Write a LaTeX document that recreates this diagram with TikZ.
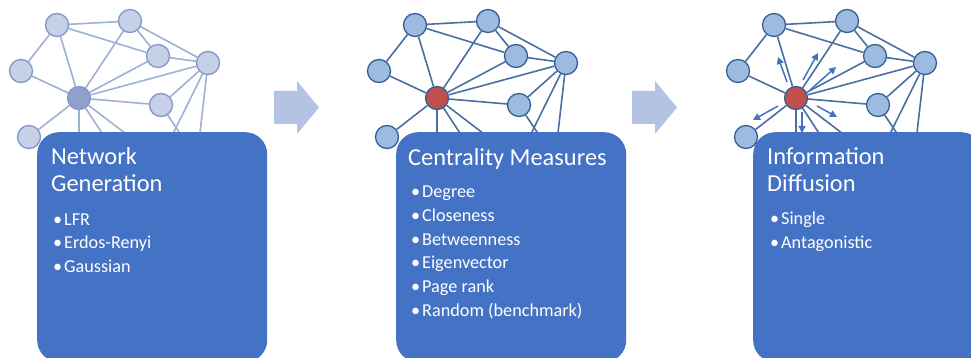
\documentclass[tikz,border=0pt]{standalone}
\usepackage{fontspec}
\setmainfont{Carlito}
\usetikzlibrary{arrows.meta}

\definecolor{boxblue}{RGB}{68,114,196}
\definecolor{chevron}{RGB}{180,194,228}
\definecolor{paleedge}{RGB}{158,176,214}
\definecolor{palefill}{RGB}{198,208,231}
\definecolor{paleline}{RGB}{130,151,200}
\definecolor{palehub}{RGB}{142,160,205}
\definecolor{nodefill}{RGB}{157,186,224}
\definecolor{nodeline}{RGB}{52,96,150}
\definecolor{edgeblue}{RGB}{72,112,160}
\definecolor{hubred}{RGB}{192,80,77}

% one copy of the graph, drawn with the styles of the enclosing scope
\newcommand\netdraw{%
  \node[vtx] (A) at (57,25) {};
  \node[vtx] (B) at (130,21) {};
  \node[vtx] (C) at (158,56) {};
  \node[vtx] (D) at (208,63) {};
  \node[vtx] (E) at (21,71) {};
  \node[hub] (F) at (79,98) {};
  \node[vtx] (G) at (161,105) {};
  \node[vtx] (H) at (29,137) {};
  \coordinate (f1) at (79,150);
  \coordinate (f2) at (113,150);
  \coordinate (f3) at (147,150);
  \coordinate (g1) at (191,150);
  \coordinate (d1) at (165,150);
  \coordinate (d2) at (198,150);
  \draw[link] (A)--(B) (A)--(E) (A)--(F) (A)--(C) (B)--(C) (B)--(F) (B)--(D)
    (C)--(D) (C)--(F) (D)--(F) (D)--(G) (E)--(F) (F)--(G) (F)--(H)
    (F)--(f1) (F)--(f2) (F)--(f3) (G)--(g1) (D)--(d1) (D)--(d2);
}

\tikzset{
  panel/.style={fill=boxblue, rounded corners=22pt, minimum width=230pt,
    minimum height=230pt, inner sep=0pt, anchor=north west},
  ttl/.style={anchor=base west, inner sep=0pt, text=white,
    font=\fontsize{24.4}{28}\selectfont},
  itm/.style={anchor=base west, inner sep=0pt, text=white,
    font=\fontsize{18.2}{22}\selectfont},
  spread/.style={draw=boxblue, line width=1.5pt,
    -{Triangle[length=7pt,width=7pt]}},
  paleset/.style={
    vtx/.style={circle, fill=palefill, draw=paleline, line width=1.3pt,
      minimum size=23pt, inner sep=0pt},
    hub/.style={vtx, fill=palehub},
    link/.style={draw=paleedge, line width=1.6pt}},
  boldset/.style={
    vtx/.style={circle, fill=nodefill, draw=nodeline, line width=1.3pt,
      minimum size=23pt, inner sep=0pt},
    hub/.style={vtx, fill=hubred},
    link/.style={draw=edgeblue, line width=1.6pt}},
}

\newcommand\itemline[1]{\makebox[11pt][l]{•}#1}

\begin{document}
\begin{tikzpicture}[x=1pt,y=-1pt]
  \useasboundingbox (0,0) rectangle (971,358);
  \clip (0,0) rectangle (971,358);
  \fill[white] (0,0) rectangle (971,358);

  % graphs
  \begin{scope}[name prefix=p1-, paleset]
    \netdraw
  \end{scope}
  \begin{scope}[name prefix=p2-, xshift=358pt, boldset]
    \netdraw
  \end{scope}
  \begin{scope}[name prefix=p3-, xshift=717pt, boldset]
    \netdraw
    \coordinate (s1) at (70,82);  \coordinate (e1) at (61,57);
    \coordinate (s2) at (86,80);  \coordinate (e2) at (101,53);
    \coordinate (s3) at (93,90);  \coordinate (e3) at (119,67);
    \coordinate (s4) at (100,106);\coordinate (e4) at (120,117);
    \coordinate (s5) at (85,112); \coordinate (e5) at (85,133);
    \coordinate (s6) at (61,106); \coordinate (e6) at (36,120);
    \foreach \k in {1,...,6} \draw[spread] (s\k) -- (e\k);
  \end{scope}

  % block arrows between the stages
  \foreach \dx in {0,358}
    \fill[chevron, xshift=\dx pt] (274,91) -- (297,91) -- (297,81) -- (319,107.5)
      -- (297,134) -- (297,124) -- (274,124) -- cycle;

  % stage boxes
  \node[panel] (box1) at (37,132) {};
  \node[panel] (box2) at (396,132) {};
  \node[panel] (box3) at (753,132) {};

  % stage 1
  \node[ttl] (t1a) at (51,165) {Network};
  \node[ttl] (t1b) at (51,192) {Generation};
  \node[itm] (b1a) at (53,225) {\itemline{LFR}};
  \node[itm] (b1b) at (53,248.5) {\itemline{Erdos-Renyi}};
  \node[itm] (b1c) at (53,272) {\itemline{Gaussian}};

  % stage 2
  \node[ttl] (t2a) at (408,166) {Centrality Measures};
  \node[itm] (b2a) at (411,197) {\itemline{Degree}};
  \node[itm] (b2b) at (411,221) {\itemline{Closeness}};
  \node[itm] (b2c) at (411,245) {\itemline{Betweenness}};
  \node[itm] (b2d) at (411,268.5) {\itemline{Eigenvector}};
  \node[itm] (b2e) at (411,292) {\itemline{Page rank}};
  \node[itm] (b2f) at (411,316.5) {\itemline{Random (benchmark)}};

  % stage 3
  \node[ttl] (t3a) at (767,165) {Information};
  \node[ttl] (t3b) at (767,192) {Diffusion};
  \node[itm] (b3a) at (770,224.5) {\itemline{Single}};
  \node[itm] (b3b) at (770,248.5) {\itemline{Antagonistic}};
\end{tikzpicture}
\end{document}
